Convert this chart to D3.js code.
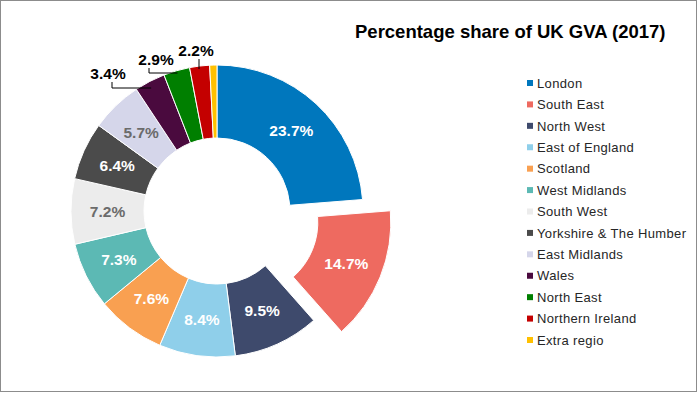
<!DOCTYPE html>
<html lang="en">
<head>
  <meta charset="UTF-8">
  <title>UK GVA share</title>
  <style>
    body { margin: 0; background: #fff; }
    svg { display: block; font-family: "Liberation Sans", Arial, sans-serif; }
  </style>
</head>
<body>
<script src="https://cdn.jsdelivr.net/npm/d3@7"></script>
<script>
  var regions = ['London', 'South East', 'North West', 'East of England', 'Scotland', 'West Midlands',
    'South West', 'Yorkshire & The Humber', 'East Midlands', 'Wales', 'North East', 'Northern Ireland', 'Extra regio']
  var shares = [23.7, 14.7, 9.5, 8.4, 7.6, 7.3, 7.2, 6.4, 5.7, 3.4, 2.9, 2.2, 0.8]
  var colors = ['#0077bd', '#ee6a60', '#3e4a6c', '#8fcfea', '#f9a051', '#5cb9b4',
    '#ececec', '#4b4b4b', '#d5d6ea', '#4a0a3e', '#007f00', '#c40000', '#ffc000']
  var labelColors = ['#fff', '#fff', '#fff', '#fff', '#fff', '#fff',
    '#6b6b6b', '#fff', '#6b6b6b', '#000', '#000', '#000', null]
  var outside = ['Wales', 'North East', 'Northern Ireland']
  var exploded = 'South East'

  var width = 700, height = 395
  var cx = 217, cy = 211
  var outerR = 146, innerR = 73, explode = 30

  var svg = d3.select('body').append('svg')
    .attr('width', width)
    .attr('height', height)

  svg.append('rect')
    .attr('x', 0.5).attr('y', 0.5)
    .attr('width', 696).attr('height', 391)
    .attr('fill', '#fff')
    .attr('stroke', '#8c8c8c')

  svg.append('text')
    .attr('x', 355).attr('y', 38)
    .attr('font-size', 18.5)
    .attr('font-weight', 'bold')
    .attr('fill', '#000')
    .text('Percentage share of UK GVA (2017)')

  var data = regions.map((r, i) => ({ region: r, value: shares[i], color: colors[i], lc: labelColors[i] }))

  var pie = d3.pie().sort(null).value(d => d.value)
  var arc = d3.arc().innerRadius(innerR).outerRadius(outerR)
  var arcs = pie(data)

  function offset(d) {
    if (d.data.region !== exploded) return [0, 0]
    var a = (d.startAngle + d.endAngle) / 2
    return [Math.sin(a) * explode, -Math.cos(a) * explode]
  }

  var g = svg.append('g').attr('transform', `translate(${cx},${cy})`)

  g.selectAll('path')
    .data(arcs)
    .enter()
    .append('path')
    .attr('d', arc)
    .attr('transform', d => `translate(${offset(d)})`)
    .attr('fill', d => d.data.color)
    .attr('stroke', '#fff')
    .attr('stroke-width', 1)

  // labels inside the ring
  g.selectAll('text.inner')
    .data(arcs.filter(d => d.data.lc && outside.indexOf(d.data.region) < 0))
    .enter()
    .append('text')
    .attr('class', 'inner')
    .attr('transform', d => {
      var c = arc.centroid(d), o = offset(d)
      return `translate(${c[0] + o[0]},${c[1] + o[1]})`
    })
    .attr('text-anchor', 'middle')
    .attr('dy', '0.36em')
    .attr('font-size', 15.5)
    .attr('font-weight', 'bold')
    .attr('fill', d => d.data.lc)
    .text(d => d.data.value.toFixed(1) + '%')

  // small slices: labels outside with elbow leaders
  var leaders = {
    'Wales': { label: [-109, -138], bend: [-105, -123] },
    'North East': { label: [-61, -152], bend: [-68, -138] },
    'Northern Ireland': { label: [-21, -161], bend: [-18, -143] }
  }
  var outs = arcs.filter(d => outside.indexOf(d.data.region) >= 0)

  g.selectAll('path.leader')
    .data(outs)
    .enter()
    .append('path')
    .attr('class', 'leader')
    .attr('fill', 'none')
    .attr('stroke', '#000')
    .attr('stroke-width', 1)
    .attr('d', d => {
      var L = leaders[d.data.region]
      var a = (d.startAngle + d.endAngle) / 2
      var ex = Math.sin(a) * (outerR - 3), ey = -Math.cos(a) * (outerR - 3)
      var x0 = L.bend[0], ytop = L.label[1] + 9
      if (d.data.region === 'Northern Ireland') {
        return `M${x0},${ytop}V${ey}`
      }
      return `M${x0},${ytop}V${L.bend[1]}H${ex}`
    })

  g.selectAll('text.outer')
    .data(outs)
    .enter()
    .append('text')
    .attr('class', 'outer')
    .attr('x', d => leaders[d.data.region].label[0])
    .attr('y', d => leaders[d.data.region].label[1])
    .attr('text-anchor', 'middle')
    .attr('dy', '0.36em')
    .attr('font-size', 15.5)
    .attr('font-weight', 'bold')
    .attr('fill', '#000')
    .text(d => d.data.value.toFixed(1) + '%')

  // legend
  var legendY = d3.scalePoint().domain(regions).range([83, 340])
  var legend = svg.append('g')
  var items = legend.selectAll('g')
    .data(data)
    .enter()
    .append('g')
    .attr('transform', d => `translate(527,${legendY(d.region)})`)
  items.append('rect')
    .attr('x', 0).attr('y', -3)
    .attr('width', 6).attr('height', 6)
    .attr('fill', d => d.color)
  items.append('text')
    .attr('x', 10)
    .attr('dy', '0.36em')
    .attr('font-size', 13)
    .attr('letter-spacing', 0.35)
    .attr('fill', '#262626')
    .text(d => d.region)
</script>
</body>
</html>
